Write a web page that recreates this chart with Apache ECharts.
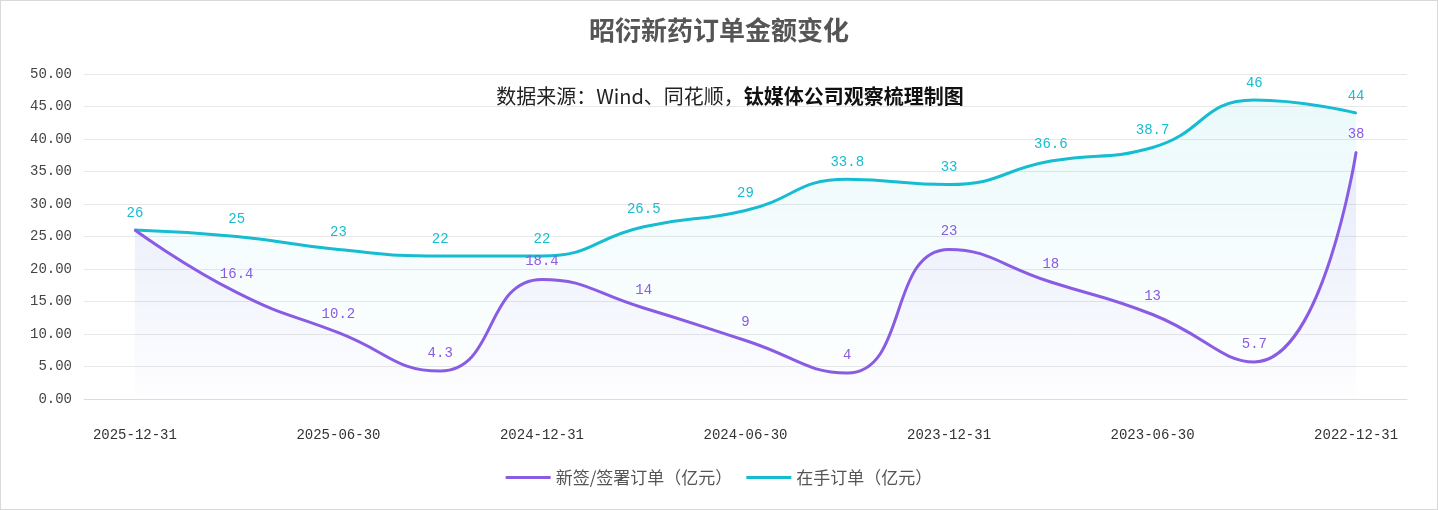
<!DOCTYPE html>
<html lang="zh-CN">
<head>
    <meta charset="utf-8">
    <script src="https://cdn.jsdelivr.net/npm/echarts@6/dist/echarts.min.js"></script>
</head>
<body style="margin: 0; background: #fff">
<div id="container" style="width: 1436px; height: 508px; border: 1px solid #d9d9d9"></div>
<script type="text/javascript">
    // 报告期（从新到旧）
    var periods = ['2025-12-31', '2025-09-30', '2025-06-30', '2025-03-31', '2024-12-31', '2024-09-30',
        '2024-06-30', '2024-03-31', '2023-12-31', '2023-09-30', '2023-06-30', '2023-03-31', '2022-12-31'];
    // 新签/签署订单（亿元）
    var newOrders = [26, 16.4, 10.2, 4.3, 18.4, 14, 9, 4, 23, 18, 13, 5.7, 38];
    // 在手订单（亿元）
    var backlog = [26, 25, 23, 22, 22, 26.5, 29, 33.8, 33, 36.6, 38.7, 46, 44];

    var purple = '#8a5ce3';
    var cyan = '#16bcd0';
    var mono = '"Liberation Mono", "Noto Sans CJK SC", monospace';

    // 第一个点两条线重合，只保留在手订单的标签
    var newOrdersData = newOrders.map(function (v, i) {
        return i === 0 ? {value: v, label: {show: false}} : v;
    });

    var myChart = echarts.init(document.getElementById('container'), null, {renderer: 'canvas'});

    var option = {
        title: [{
            text: '昭衍新药订单金额变化',
            left: 'center',
            top: 11,
            textStyle: {fontSize: 26, fontWeight: 'bold', color: '#555', fontFamily: '"Noto Sans CJK SC"'}
        }, {
            text: '{n|数据来源：Wind、同花顺，}{b|钛媒体公司观察梳理制图}',
            left: 724,
            textAlign: 'center',
            top: 80,
            textStyle: {
                fontWeight: 'normal',
                rich: {
                    n: {fontSize: 20, color: '#222', fontWeight: 'normal', fontFamily: '"Noto Sans CJK SC"'},
                    b: {fontSize: 20, color: '#111', fontWeight: 'bold', fontFamily: '"Noto Sans CJK SC"'}
                }
            }
        }],
        legend: {
            bottom: 18,
            left: 'center',
            icon: 'rect',
            itemWidth: 45,
            itemHeight: 3,
            itemGap: 14,
            textStyle: {fontSize: 17, color: '#555', fontFamily: '"Noto Sans CJK SC"'},
            data: ['新签/签署订单（亿元）', '在手订单（亿元）']
        },
        grid: {left: 83, right: 30, top: 73, bottom: 110},
        xAxis: {
            type: 'category',
            data: periods,
            boundaryGap: true,
            axisLine: {lineStyle: {color: '#dcdcdc'}},
            axisTick: {show: false},
            axisLabel: {interval: 1, margin: 29, fontSize: 14, color: '#333', fontFamily: mono}
        },
        yAxis: {
            type: 'value',
            min: 0,
            max: 50,
            interval: 5,
            axisLine: {show: false},
            axisTick: {show: false},
            splitLine: {lineStyle: {color: '#e8e8e8'}},
            axisLabel: {
                fontSize: 14, color: '#444', fontFamily: mono, margin: 12,
                formatter: function (v) { return v.toFixed(2); }
            }
        },
        series: [{
            name: '新签/签署订单（亿元）',
            type: 'line',
            smooth: true,
            data: newOrdersData,
            symbol: 'circle',
            symbolSize: 2,
            z: 3,
            itemStyle: {color: purple},
            lineStyle: {width: 3, color: purple},
            label: {show: true, position: 'top', distance: 10, fontSize: 14, color: purple, fontFamily: mono},
            areaStyle: {
                color: new echarts.graphic.LinearGradient(0, 0, 0, 1, [
                    {offset: 0, color: 'rgba(138,92,227,0.14)'},
                    {offset: 1, color: 'rgba(138,92,227,0.01)'}
                ])
            }
        }, {
            name: '在手订单（亿元）',
            type: 'line',
            smooth: true,
            data: backlog,
            symbol: 'circle',
            symbolSize: 2,
            z: 2,
            itemStyle: {color: cyan},
            lineStyle: {width: 3, color: cyan},
            label: {show: true, position: 'top', distance: 9, fontSize: 14, color: cyan, fontFamily: mono},
            areaStyle: {
                color: new echarts.graphic.LinearGradient(0, 0, 0, 1, [
                    {offset: 0, color: 'rgba(22,188,208,0.12)'},
                    {offset: 1, color: 'rgba(22,188,208,0.0)'}
                ])
            }
        }]
    };

    myChart.setOption(option);
    window.addEventListener('resize', myChart.resize);
</script>
</body>
</html>
